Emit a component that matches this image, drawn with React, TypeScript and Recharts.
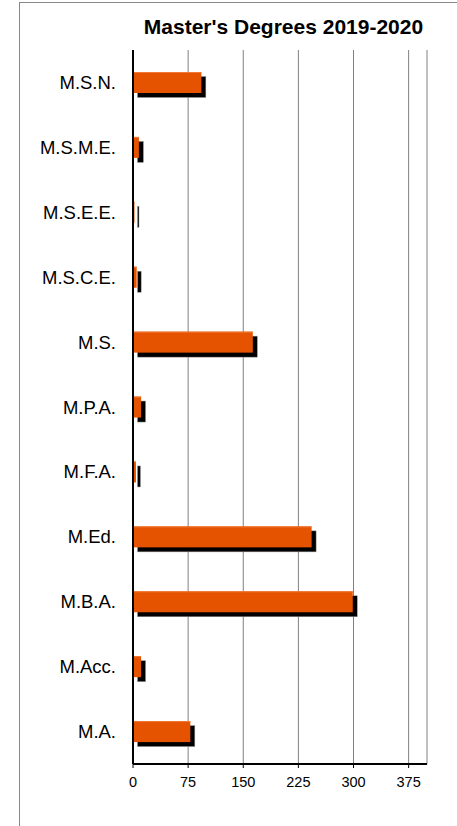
import React from 'react';
import { BarChart, Bar, XAxis, YAxis, CartesianGrid } from 'recharts';

const categories = ['M.S.N.', 'M.S.M.E.', 'M.S.E.E.', 'M.S.C.E.', 'M.S.', 'M.P.A.', 'M.F.A.', 'M.Ed.', 'M.B.A.', 'M.Acc.', 'M.A.'];
const degrees = [93, 8, 2, 5, 163, 11, 4, 243, 299, 11, 78];
const xTicks = [0, 75, 150, 225, 300, 375];
const xDomainMax = 400;
const title = "Master's Degrees 2019-2020";

const data = categories.map((name, i) => ({ name, value: degrees[i] }));

const FONT = '"Liberation Sans", Arial, sans-serif';

const ShadowBar = (props: any) => {
  const { x, y, width, height } = props;
  if (width == null || height == null) return null;
  const off = 4.5;
  return (
    <g>
      <rect x={x + off} y={y + off} width={Math.max(width, 1.5)} height={height} fill="#000" stroke="#999" strokeWidth={0.5} />
      <rect x={x} y={y} width={Math.max(width, 1.5)} height={height} fill="#E55300" />
      <rect x={x} y={y} width={Math.max(width, 1.5)} height={1} fill="#F07A35" />
    </g>
  );
};

export default function App() {
  return (
    <div style={{ position: 'absolute', left: 0, top: 0, width: 457, height: 826, overflow: 'hidden', background: '#fff' }}>
      <div style={{ position: 'absolute', left: 19, top: 2, width: 460, height: 840, borderTop: '1.5px solid #888', borderLeft: '1.5px solid #888' }} />
      <svg width={457} height={50} style={{ position: 'absolute', left: 0, top: 0 }}>
        <text x={283.5} y={34} textAnchor="middle" fontFamily={FONT} fontWeight="bold" fontSize={21} fill="#000">{title}</text>
      </svg>
      <div style={{ position: 'absolute', left: 0, top: 0 }}>
        <BarChart
          width={457}
          height={826}
          data={data}
          layout="vertical"
          margin={{ top: 50, right: 30, bottom: 32, left: 20 }}
        >
          <CartesianGrid horizontal={false} vertical={true} stroke="#808080" strokeWidth={1} />
          <XAxis
            type="number"
            domain={[0, xDomainMax]}
            ticks={xTicks}
            interval={0}
            allowDataOverflow
            axisLine={{ stroke: '#000', strokeWidth: 2 }}
            tickLine={{ stroke: '#000' }}
            tickSize={4}
            tickMargin={9}
            tick={{ fontFamily: FONT, fontSize: 14.5, fill: '#000' }}
            height={30}
          />
          <XAxis
            xAxisId="top"
            orientation="top"
            type="number"
            domain={[0, xDomainMax]}
            height={0}
            tick={false}
            tickLine={false}
            axisLine={{ stroke: '#888', strokeWidth: 2 }}
          />
          <YAxis
            type="category"
            dataKey="name"
            width={113}
            axisLine={{ stroke: '#000', strokeWidth: 2 }}
            tickLine={false}
            tickSize={0}
            tickMargin={17}
            interval={0}
            tick={{ fontFamily: FONT, fontSize: 18.5, fill: '#000' }}
          />
          <YAxis
            yAxisId="right"
            orientation="right"
            type="category"
            dataKey="name"
            width={0}
            tick={false}
            tickLine={false}
            axisLine={{ stroke: '#888', strokeWidth: 2 }}
          />
          <Bar dataKey="value" barSize={21} shape={ShadowBar} isAnimationActive={false} />
        </BarChart>
      </div>
    </div>
  );
}
